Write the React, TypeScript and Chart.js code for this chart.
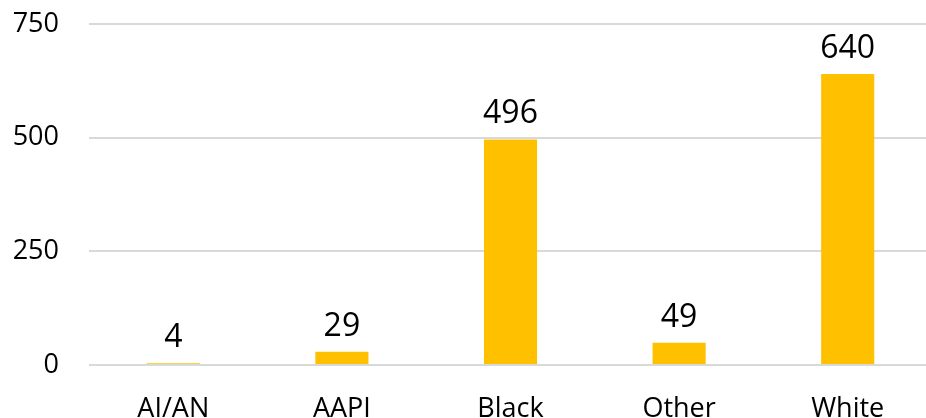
import React, { useEffect, useRef } from "react";
import { Chart, registerables } from "chart.js";

Chart.register(...registerables);

const categories: string[] = ["AI/AN", "AAPI", "Black", "Other", "White"];
const counts: number[] = [4, 29, 496, 49, 640];
const yTicks: number[] = [0, 250, 500, 750];

const FONT = "'Open Sans', sans-serif";

const valueLabels = {
  id: "valueLabels",
  afterDatasetsDraw(chart: any) {
    const ctx = chart.ctx;
    const meta = chart.getDatasetMeta(0);
    ctx.save();
    ctx.font = `32px ${FONT}`;
    ctx.fillStyle = "#000000";
    ctx.textAlign = "center";
    ctx.textBaseline = "alphabetic";
    meta.data.forEach((bar: any, i: number) => {
      ctx.fillText(String(counts[i]), bar.x, bar.y - 16);
    });
    ctx.restore();
  },
};

export default function App() {
  const ref = useRef<HTMLCanvasElement | null>(null);

  useEffect(() => {
    if (!ref.current) return;
    const chart = new Chart(ref.current, {
      type: "bar",
      data: {
        labels: categories,
        datasets: [
          {
            data: counts,
            backgroundColor: "#FFC000",
            borderWidth: 0,
            barPercentage: 0.315,
            categoryPercentage: 1,
          },
        ],
      },
      options: {
        animation: false,
        responsive: false,
        devicePixelRatio: 1,
        layout: { padding: { top: 24, right: 0, bottom: 0, left: 0 } },
        plugins: {
          legend: { display: false },
          tooltip: { enabled: false },
        },
        scales: {
          x: {
            grid: { display: false, drawTicks: false },
            border: { display: false },
            ticks: {
              color: "#000000",
              font: { family: FONT, size: 27 },
              padding: 28,
              maxRotation: 0,
              autoSkip: false,
            },
            afterFit: (s: any) => {
              s.height = 75;
              s.paddingLeft = 0;
              s.paddingRight = 0;
            },
          },
          y: {
            min: 0,
            max: 750,
            afterBuildTicks: (s: any) => {
              s.ticks = yTicks.map((v) => ({ value: v }));
            },
            grid: { color: "#D9D9D9", lineWidth: 2, drawTicks: false },
            border: { display: false },
            ticks: {
              color: "#000000",
              font: { family: FONT, size: 27 },
              padding: 30,
            },
            afterFit: (s: any) => {
              s.width = 89;
              s.paddingTop = 0;
              s.paddingBottom = 0;
            },
          },
        },
      },
      plugins: [valueLabels],
    });
    return () => chart.destroy();
  }, []);

  return (
    <div
      style={{
        position: "absolute",
        left: 0,
        top: 0,
        width: 926,
        height: 418,
        overflow: "hidden",
        background: "#ffffff",
      }}
    >
      <canvas ref={ref} width={932} height={440} style={{ display: "block" }} />
    </div>
  );
}
